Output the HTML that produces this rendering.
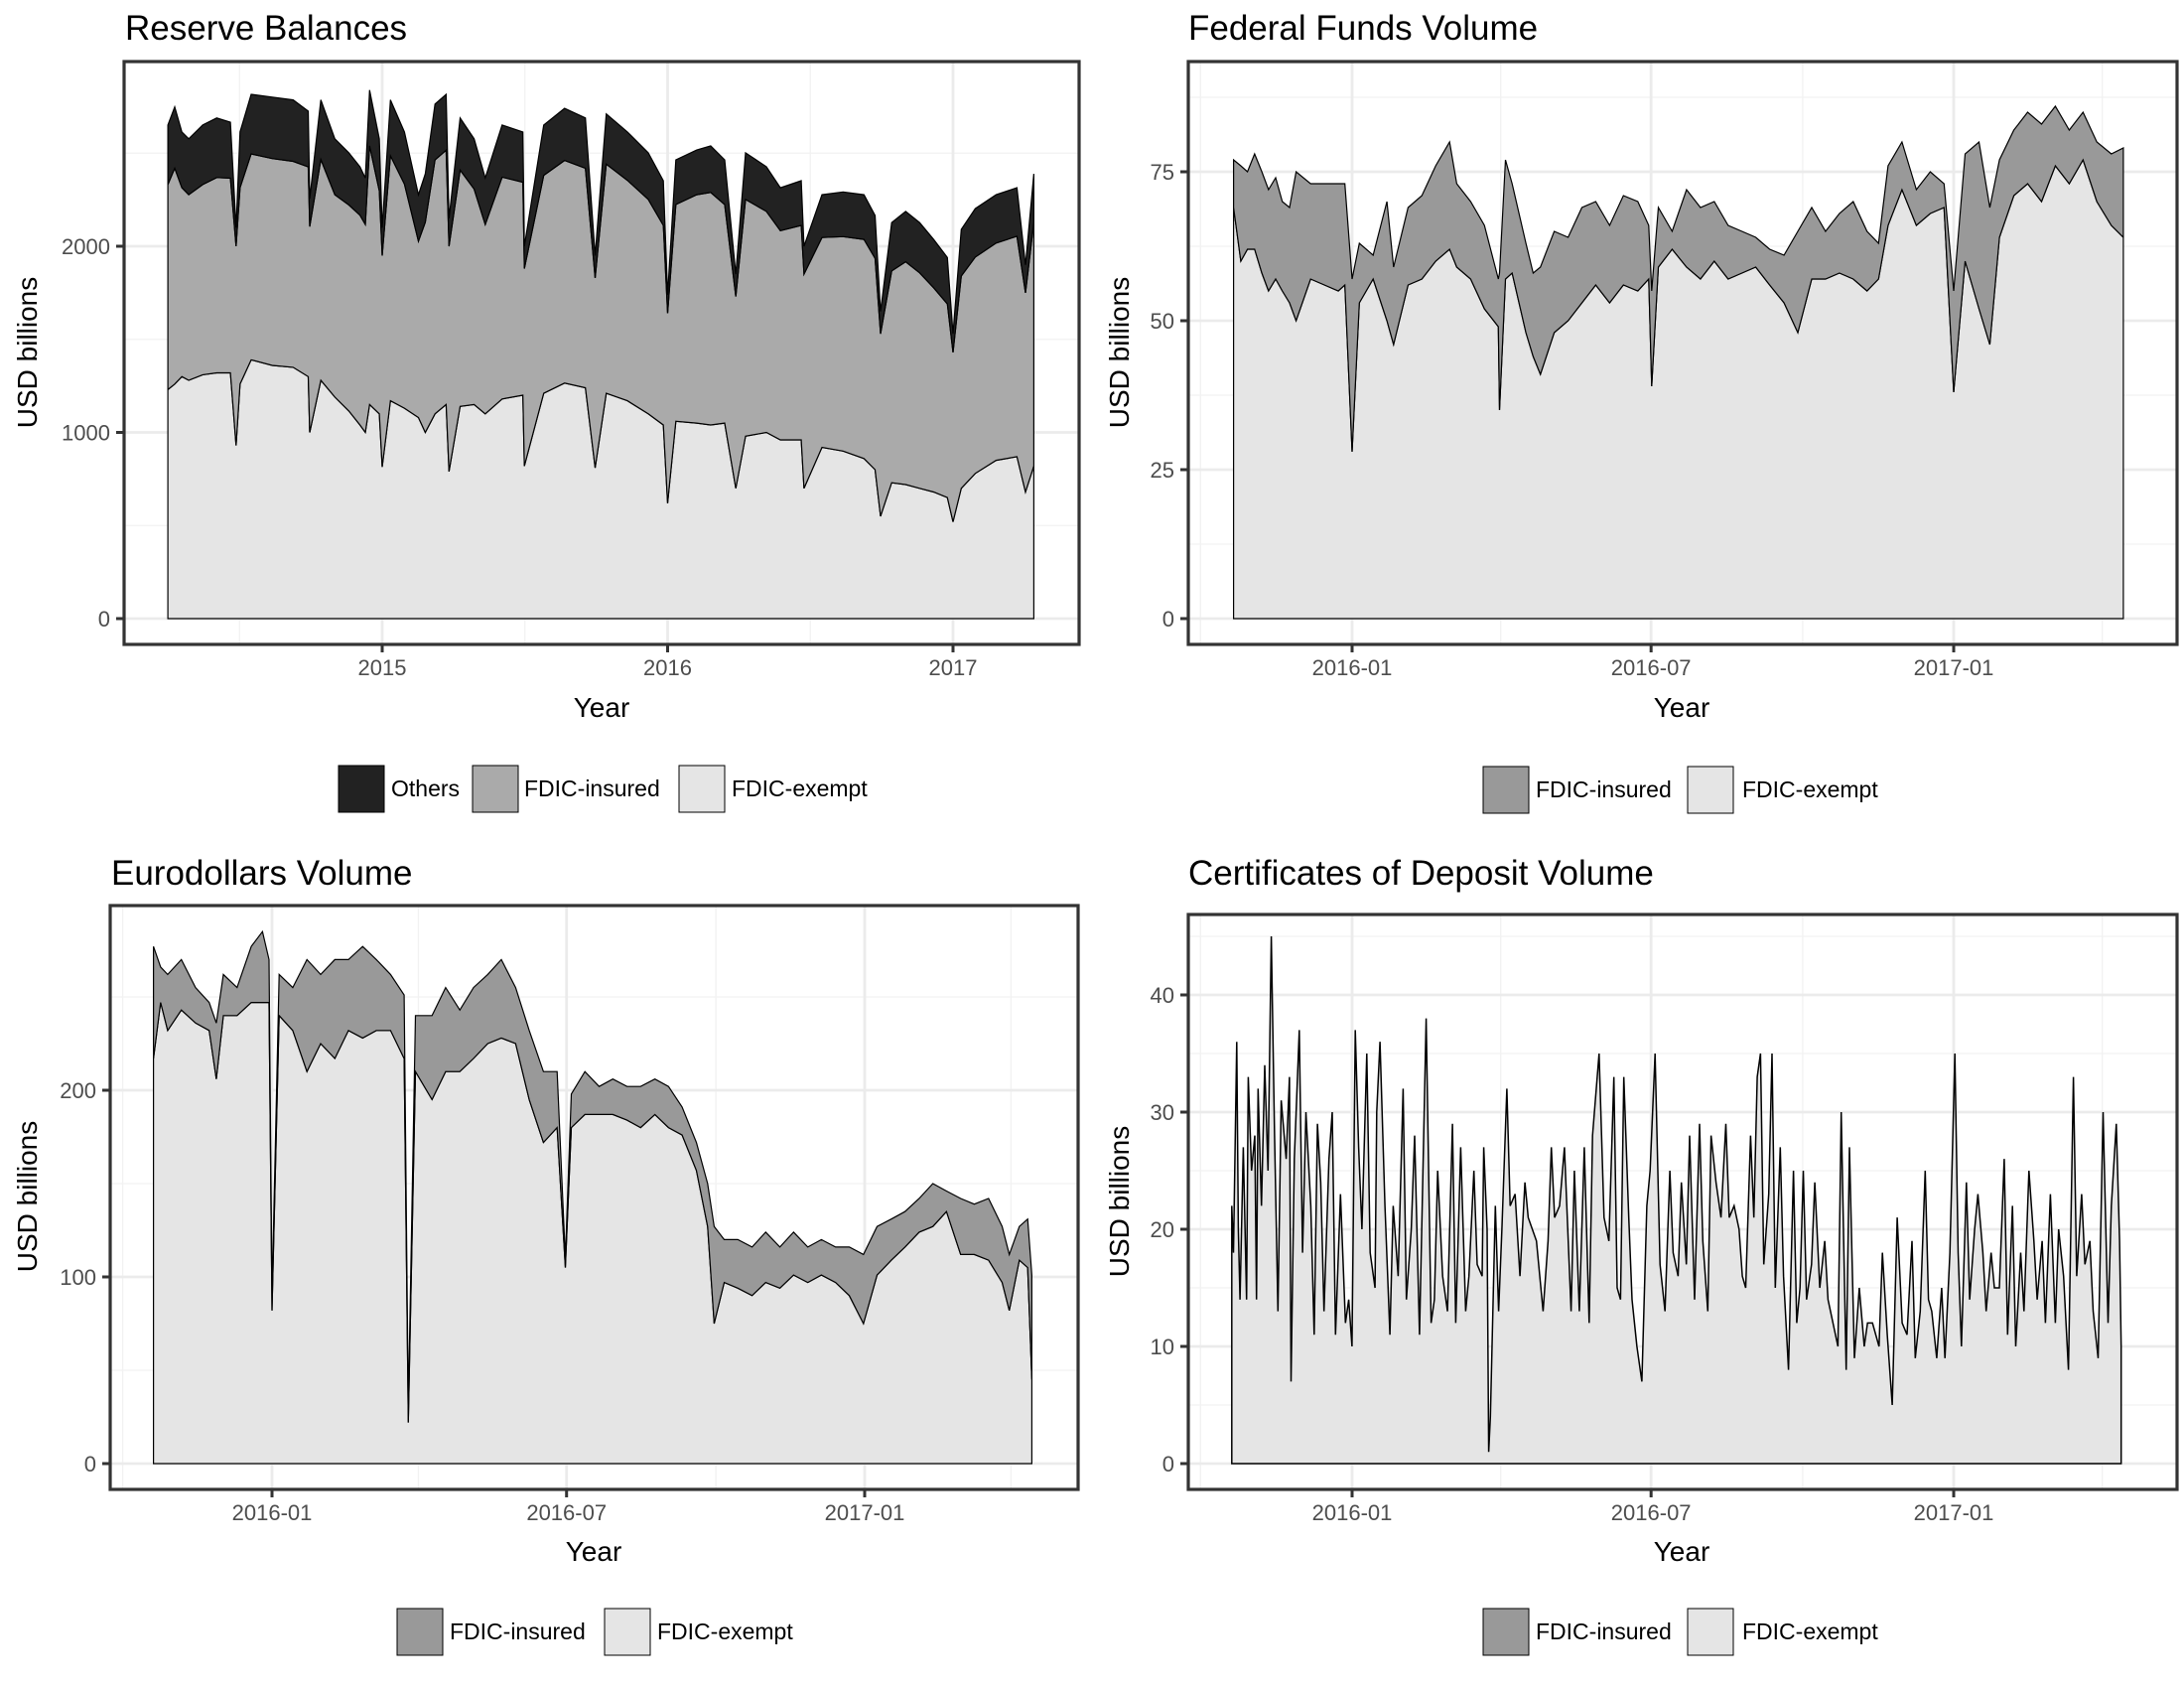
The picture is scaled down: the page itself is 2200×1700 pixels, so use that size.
<!DOCTYPE html>
<html><head><meta charset="utf-8"><style>
html,body{margin:0;padding:0;background:#fff;}
svg{display:block;font-family:"Liberation Sans",Arial,sans-serif;}
</style></head><body>
<svg id="chart" width="2200" height="1700" viewBox="0 0 2200 1700" xmlns="http://www.w3.org/2000/svg">
<rect x="0" y="0" width="2200" height="1700" fill="#fff"/>
<g id="p1"></g>
<g id="p2"></g>
<g id="p3"></g>
<g id="p4"></g>

<text x="126" y="40" font-size="35" fill="#000">Reserve Balances</text>
<text x="1197" y="40" font-size="35" fill="#000">Federal Funds Volume</text>
<text x="112" y="891" font-size="35" fill="#000">Eurodollars Volume</text>
<text x="1197" y="891" font-size="35" fill="#000">Certificates of Deposit Volume</text>

<text x="606" y="722" font-size="28" text-anchor="middle">Year</text>
<text x="1694" y="722" font-size="28" text-anchor="middle">Year</text>
<text x="598" y="1572" font-size="28" text-anchor="middle">Year</text>
<text x="1694" y="1572" font-size="28" text-anchor="middle">Year</text>

<text transform="translate(37,355) rotate(-90)" font-size="28" text-anchor="middle">USD billions</text>
<text transform="translate(1137,355) rotate(-90)" font-size="28" text-anchor="middle">USD billions</text>
<text transform="translate(37,1205) rotate(-90)" font-size="28" text-anchor="middle">USD billions</text>
<text transform="translate(1137,1210) rotate(-90)" font-size="28" text-anchor="middle">USD billions</text>

<g font-size="23">
 <rect x="341" y="771" width="46" height="47" fill="#222" stroke="#000" stroke-width="1"/>
 <text x="394" y="802">Others</text>
 <rect x="476" y="771" width="46" height="47" fill="#aaaaaa" stroke="#000" stroke-width="1"/>
 <text x="528" y="802">FDIC-insured</text>
 <rect x="684" y="771" width="46" height="47" fill="#e5e5e5" stroke="#000" stroke-width="1"/>
 <text x="737" y="802">FDIC-exempt</text>
</g>
<g font-size="23">
 <rect x="1494" y="772" width="46" height="47" fill="#999999" stroke="#000" stroke-width="1"/>
 <text x="1547" y="803">FDIC-insured</text>
 <rect x="1700" y="772" width="46" height="47" fill="#e5e5e5" stroke="#000" stroke-width="1"/>
 <text x="1755" y="803">FDIC-exempt</text>
</g>
<g font-size="23">
 <rect x="400" y="1620" width="46" height="47" fill="#999999" stroke="#000" stroke-width="1"/>
 <text x="453" y="1651">FDIC-insured</text>
 <rect x="609" y="1620" width="46" height="47" fill="#e5e5e5" stroke="#000" stroke-width="1"/>
 <text x="662" y="1651">FDIC-exempt</text>
</g>
<g font-size="23">
 <rect x="1494" y="1620" width="46" height="47" fill="#999999" stroke="#000" stroke-width="1"/>
 <text x="1547" y="1651">FDIC-insured</text>
 <rect x="1700" y="1620" width="46" height="47" fill="#e5e5e5" stroke="#000" stroke-width="1"/>
 <text x="1755" y="1651">FDIC-exempt</text>
</g>
</svg>
<script>
// ---------- Reserve balances (USD bn) ----------
const rbDates=[2014.249,2014.273,2014.298,2014.322,2014.371,2014.420,2014.468,2014.488,2014.502,2014.541,2014.615,2014.688,2014.741,2014.746,2014.785,2014.834,2014.883,2014.922,2014.941,2014.956,2014.990,2015.000,2015.029,2015.078,2015.127,2015.151,2015.185,2015.224,2015.234,2015.273,2015.322,2015.361,2015.420,2015.493,2015.498,2015.566,2015.639,2015.712,2015.746,2015.785,2015.859,2015.932,2015.985,2016.000,2016.029,2016.102,2016.151,2016.200,2016.239,2016.273,2016.346,2016.395,2016.468,2016.478,2016.541,2016.615,2016.688,2016.727,2016.746,2016.785,2016.834,2016.883,2016.932,2016.980,2017.000,2017.029,2017.078,2017.151,2017.224,2017.254,2017.283];
const rbTotal=[2651,2749,2614,2577,2651,2689,2666,2100,2614,2816,2801,2786,2726,2256,2786,2577,2502,2427,2367,2839,2577,2100,2786,2614,2277,2389,2764,2816,2150,2689,2577,2367,2651,2614,2000,2651,2741,2689,1950,2711,2614,2502,2352,1740,2464,2517,2539,2464,1850,2502,2427,2314,2352,2000,2277,2292,2277,2165,1650,2127,2187,2127,2037,1940,1530,2090,2202,2277,2314,1900,2389];
const rbOthers=[320,330,300,300,320,320,300,100,300,320,330,330,300,150,320,300,280,260,250,300,280,150,300,280,250,260,300,300,150,280,270,250,280,270,120,270,280,270,120,270,260,250,240,100,240,240,250,240,120,250,240,230,240,150,230,240,240,230,120,260,270,270,260,250,100,250,260,260,260,150,260];
const rbExempt=[1230,1260,1300,1280,1310,1320,1320,930,1260,1390,1360,1350,1300,1000,1280,1190,1115,1040,1000,1150,1100,815,1170,1130,1080,1000,1100,1150,790,1140,1150,1100,1180,1200,820,1210,1265,1240,810,1210,1170,1100,1040,620,1060,1050,1040,1050,700,980,1000,960,960,700,920,900,860,800,550,730,720,700,680,650,520,700,780,850,870,680,820];
const rbYTicks=[0,1000,2000];
const rbYMinor=[500,1500,2500];
const rbXTicks=[2015,2016,2017];
const rbXLabels=["2015","2016","2017"];
const rbXMinor=[2014.5,2015.5,2016.5];

// ---------- Federal funds ----------
const ffDates=[2015.803,2015.815,2015.826,2015.838,2015.850,2015.861,2015.873,2015.884,2015.896,2015.907,2015.931,2015.954,2015.977,2015.988,2016.000,2016.012,2016.035,2016.058,2016.069,2016.093,2016.116,2016.139,2016.162,2016.174,2016.197,2016.220,2016.243,2016.245,2016.255,2016.266,2016.289,2016.301,2016.313,2016.336,2016.359,2016.382,2016.405,2016.428,2016.451,2016.475,2016.493,2016.498,2016.509,2016.532,2016.556,2016.579,2016.602,2016.625,2016.648,2016.671,2016.694,2016.718,2016.741,2016.764,2016.787,2016.810,2016.833,2016.856,2016.875,2016.891,2016.914,2016.938,2016.961,2016.984,2017.000,2017.019,2017.042,2017.060,2017.076,2017.100,2017.123,2017.146,2017.169,2017.192,2017.215,2017.238,2017.262,2017.282];
const ffTotal=[77,76,75,78,75,72,74,70,69,75,73,73,73,73,57,63,61,70,59,69,71,76,80,73,70,66,57,58,77,73,63,58,59,65,64,69,70,66,71,70,66,55,69,65,72,69,70,66,65,64,62,61,65,69,65,68,70,65,63,76,80,72,75,73,55,78,80,69,77,82,85,83,86,82,85,80,78,79];
const ffExempt=[69,60,62,62,58,55,57,55,53,50,57,56,55,56,28,53,57,50,46,56,57,60,62,59,57,52,49,35,57,58,48,44,41,48,50,53,56,53,56,55,57,39,59,62,59,57,60,57,58,59,56,53,48,57,57,58,57,55,57,66,72,66,68,69,38,60,52,46,64,71,73,70,76,73,77,70,66,64];
const ffYTicks=[0,25,50,75];
const ffYMinor=[12.5,37.5,62.5,87.5];
const dateXTicks=[2016.0,2016.497,2017.0];
const dateXLabels=["2016-01","2016-07","2017-01"];
const dateXMinor=[2015.748,2016.247,2016.749,2017.247];

// ---------- Eurodollars ----------
const edDates=[2015.800,2015.812,2015.824,2015.847,2015.871,2015.894,2015.906,2015.918,2015.941,2015.965,2015.984,2015.995,2016.000,2016.012,2016.035,2016.059,2016.082,2016.106,2016.129,2016.153,2016.176,2016.200,2016.223,2016.230,2016.242,2016.270,2016.293,2016.317,2016.340,2016.364,2016.387,2016.411,2016.434,2016.458,2016.481,2016.495,2016.505,2016.528,2016.552,2016.575,2016.599,2016.622,2016.646,2016.669,2016.692,2016.716,2016.735,2016.746,2016.763,2016.786,2016.810,2016.833,2016.857,2016.880,2016.904,2016.927,2016.951,2016.974,2016.998,2017.021,2017.045,2017.068,2017.092,2017.115,2017.138,2017.162,2017.185,2017.209,2017.232,2017.244,2017.261,2017.275,2017.282];
const edTotal=[277,266,262,270,255,247,236,262,255,277,285,270,90,262,255,270,262,270,270,277,270,262,251,30,240,240,255,243,255,262,270,255,232,210,210,110,198,210,202,206,202,202,206,202,191,172,150,127,120,120,116,124,116,124,116,120,116,116,112,127,131,135,142,150,146,142,139,142,127,112,127,131,101];
const edExempt=[217,247,232,243,236,232,206,240,240,247,247,247,82,240,232,210,225,217,232,228,232,232,217,22,210,195,210,210,217,225,228,225,195,172,180,105,180,187,187,187,184,180,187,180,176,157,127,75,97,94,90,97,94,101,97,101,97,90,75,101,109,116,124,127,135,112,112,109,97,82,109,105,45];
const edYTicks=[0,100,200];
const edYMinor=[50,150,250];

// ---------- Certificates of deposit (days since 2015-10-20) ----------
const cdDay=[0,1,3,4,5,7,9,10,12,14,15,16,18,20,22,24,26,28,30,33,35,36,38,41,43,45,48,50,52,54,56,59,61,63,66,69,71,73,75,77,79,82,84,87,88,90,93,96,98,101,104,106,109,111,114,118,121,123,125,128,131,134,136,139,142,144,147,149,152,153,155,156,157,160,162,164,167,169,172,175,178,180,185,189,192,194,196,199,202,206,208,211,214,217,219,223,226,229,232,234,236,238,241,243,246,249,252,254,257,260,263,266,268,271,273,276,278,281,284,286,289,291,294,297,300,302,305,308,310,312,315,317,319,321,323,326,328,330,333,335,338,341,343,345,347,349,352,354,357,360,362,365,368,370,373,375,378,381,384,386,389,393,395,398,401,404,407,410,413,415,418,421,423,425,428,431,433,436,439,441,443,446,448,451,453,456,458,461,463,466,469,471,474,476,479,481,484,487,489,492,494,497,500,502,505,508,511,513,516,518,521,523,526,529,532,534,537,539,540];
const cdTotal=[22,18,36,20,14,27,14,33,25,28,14,32,22,34,25,45,28,13,31,26,33,7,26,37,18,30,22,11,29,24,13,26,30,11,23,12,14,10,37,27,20,35,18,15,30,36,22,11,22,16,32,14,20,28,11,38,12,14,25,16,13,29,12,27,13,16,25,17,16,27,20,1,4,22,13,20,32,22,23,16,24,21,19,13,19,27,21,22,27,13,25,13,27,12,28,35,21,19,33,15,14,33,21,14,10,7,22,25,35,17,13,25,18,16,24,17,28,14,29,19,13,28,24,21,29,21,22,20,16,15,28,21,33,35,17,23,35,15,27,16,8,25,12,15,25,14,17,24,15,19,14,12,10,30,8,27,9,15,10,12,12,10,18,11,5,21,12,11,19,9,13,25,14,13,9,15,9,18,35,18,10,24,14,20,23,18,13,18,15,15,26,11,22,10,18,13,25,19,14,19,12,23,12,20,16,8,33,16,23,17,19,13,9,30,12,22,29,19,10];
const cdStartYear=2015.800;
const cdYTicks=[0,10,20,30,40];
const cdYMinor=[5,15,25,35,45];

const NS="http://www.w3.org/2000/svg";
function mk(tag,attrs,parent){const e=document.createElementNS(NS,tag);for(const k in attrs)e.setAttribute(k,attrs[k]);parent.appendChild(e);return e;}

function drawPanel(g,box,xs,ys,xMajor,xLabels,xMinor,yMajor,yMinor,prefix){
  mk('rect',{x:box.l,y:box.t,width:box.r-box.l,height:box.b-box.t,fill:'#fff'},g);
  for(const v of yMinor){const y=ys(v);if(y<box.t||y>box.b)continue;
    const ln=mk('line',{x1:box.l,x2:box.r,y1:y,y2:y,stroke:'#f2f2f2','stroke-width':1.3},g);
    
    }
  for(const v of xMinor){const x=xs(v);if(x<box.l||x>box.r)continue;
    const ln=mk('line',{x1:x,x2:x,y1:box.t,y2:box.b,stroke:'#f2f2f2','stroke-width':1.3},g);
    
    }
  for(const v of yMajor){const y=ys(v);
    const ln=mk('line',{x1:box.l,x2:box.r,y1:y,y2:y,stroke:'#ebebeb','stroke-width':2.8},g);
    
    }
  for(const v of xMajor){const x=xs(v);
    const ln=mk('line',{x1:x,x2:x,y1:box.t,y2:box.b,stroke:'#ebebeb','stroke-width':2.8},g);
    
    }
}
function finishPanel(g,box,xs,ys,xMajor,xLabels,yMajor,prefix){
  const br=mk('rect',{x:box.l,y:box.t,width:box.r-box.l,height:box.b-box.t,fill:'none',stroke:'#333','stroke-width':3.2},g);
  
  
  yMajor.forEach(v=>{const y=ys(v);
    const t=mk('line',{x1:box.l-8,x2:box.l,y1:y,y2:y,stroke:'#333','stroke-width':3},g);
    
    
    const lb=mk('text',{x:box.l-14,y:y+8,'font-size':22,'text-anchor':'end',fill:'#4d4d4d'},g);
    lb.textContent=String(v);
    
    });
  xMajor.forEach((v,i)=>{const x=xs(v);
    const t=mk('line',{x1:x,x2:x,y1:box.b,y2:box.b+8,stroke:'#333','stroke-width':3},g);
    
    
    const lb=mk('text',{x:x,y:box.b+31,'font-size':22,'text-anchor':'middle',fill:'#4d4d4d'},g);
    lb.textContent=xLabels[i];
    
    });
}
function pts(xArr,yArr,xs,ys){return xArr.map((d,i)=>xs(d).toFixed(1)+','+ys(yArr[i]).toFixed(1));}
function band(xArr,lo,hi,xs,ys){
  const a=pts(xArr,hi,xs,ys);const b=pts(xArr,lo,xs,ys).reverse();
  return 'M'+a.join('L')+'L'+b.join('L')+'Z';
}

// Panel 1
(function(){
  const g=document.getElementById('p1');
  const box={l:125,r:1087,t:62,b:649};
  const xs=d=>385+(d-2015)*287.5, ys=v=>623-v*0.1875;
  drawPanel(g,box,xs,ys,rbXTicks,rbXLabels,rbXMinor,rbYTicks,rbYMinor,'reserve');
  const zeros=rbDates.map(()=>0);
  const insTop=rbTotal.map((t,i)=>t-rbOthers[i]);
  const e=mk('path',{d:band(rbDates,zeros,rbExempt,xs,ys),fill:'#e5e5e5',stroke:'#000','stroke-width':1.2},g);
  
  
  const ins=mk('path',{d:band(rbDates,rbExempt,insTop,xs,ys),fill:'#aaaaaa',stroke:'#000','stroke-width':1.2},g);
  
  
  const o=mk('path',{d:band(rbDates,insTop,rbTotal,xs,ys),fill:'#222',stroke:'#000','stroke-width':1.2},g);
  
  
  finishPanel(g,box,xs,ys,rbXTicks,rbXLabels,rbYTicks,'reserve');
})();

// Panel 2
(function(){
  const g=document.getElementById('p2');
  const box={l:1197,r:2193,t:62,b:649};
  const xs=d=>1362+(d-2016)*606, ys=v=>623-v*6;
  drawPanel(g,box,xs,ys,dateXTicks,dateXLabels,dateXMinor,ffYTicks,ffYMinor,'fedfunds');
  const zeros=ffDates.map(()=>0);
  const e=mk('path',{d:band(ffDates,zeros,ffExempt,xs,ys),fill:'#e5e5e5',stroke:'#000','stroke-width':1.2},g);
  
  
  const ins=mk('path',{d:band(ffDates,ffExempt,ffTotal,xs,ys),fill:'#999999',stroke:'#000','stroke-width':1.2},g);
  
  
  finishPanel(g,box,xs,ys,dateXTicks,dateXLabels,ffYTicks,'fedfunds');
})();

// Panel 3
(function(){
  const g=document.getElementById('p3');
  const box={l:111,r:1086,t:912,b:1500};
  const xs=d=>274+(d-2016)*597, ys=v=>1474-v*1.88;
  drawPanel(g,box,xs,ys,dateXTicks,dateXLabels,dateXMinor,edYTicks,edYMinor,'eurodollars');
  const zeros=edDates.map(()=>0);
  const e=mk('path',{d:band(edDates,zeros,edExempt,xs,ys),fill:'#e5e5e5',stroke:'#000','stroke-width':1.2},g);
  
  
  const ins=mk('path',{d:band(edDates,edExempt,edTotal,xs,ys),fill:'#999999',stroke:'#000','stroke-width':1.2},g);
  
  
  finishPanel(g,box,xs,ys,dateXTicks,dateXLabels,edYTicks,'eurodollars');
})();

// Panel 4
(function(){
  const g=document.getElementById('p4');
  const box={l:1197,r:2193,t:921,b:1500};
  const xs=d=>1362+(d-2016)*606, ys=v=>1474-v*11.8;
  drawPanel(g,box,xs,ys,dateXTicks,dateXLabels,dateXMinor,cdYTicks,cdYMinor,'cd');
  const dates=cdDay.map(d=>cdStartYear+d/365.25);
  const zeros=dates.map(()=>0);
  const e=mk('path',{d:band(dates,zeros,cdTotal,xs,ys),fill:'#e5e5e5',stroke:'#000','stroke-width':1.5},g);
  
  
  finishPanel(g,box,xs,ys,dateXTicks,dateXLabels,cdYTicks,'cd');
})();
</script>
</body></html>
